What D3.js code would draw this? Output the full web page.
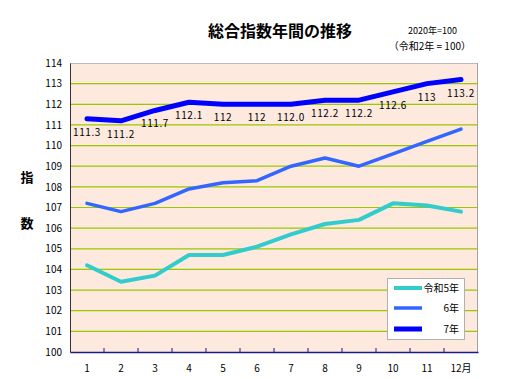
<!DOCTYPE html>
<html><head><meta charset="utf-8">
<script src="https://cdn.jsdelivr.net/npm/d3@7"></script>
<style>body{margin:0;background:#fff}svg{display:block}text{font-family:"Noto Sans CJK JP","Noto Sans",sans-serif}</style>
</head><body><div id="c"></div>
<script>
const months = ["1","2","3","4","5","6","7","8","9","10","11","12月"];
const r5 = [104.2,103.4,103.7,104.7,104.7,105.1,105.7,106.2,106.4,107.2,107.1,106.8];
const r6 = [107.2,106.8,107.2,107.9,108.2,108.3,109.0,109.4,109.0,109.6,110.2,110.8];
const r7 = [111.3,111.2,111.7,112.1,112.0,112.0,112.0,112.2,112.2,112.6,113.0,113.2];
const r7Labels = ["111.3","111.2","111.7","112.1","112","112","112.0","112.2","112.2","112.6","113","113.2"];
const yTicks = d3.range(100,115);
const seriesNames = ["令和5年","6年","7年"];
const seriesColors = ["#33cccc","#3366ff","#0000ff"];
const seriesWidths = [4,3.5,5];
const seriesData = [r5,r6,r7];

const W=511,H=379;
const svg=d3.select("#c").append("svg").attr("width",W).attr("height",H);
const L=70,R=478,T=63,B=352;
const x=d3.scaleBand().domain(months).range([L,R]);
const y=d3.scaleLinear().domain([100,114]).range([B,T]);
const cx=m=>x(m)+x.bandwidth()/2;

svg.append("rect").attr("x",L).attr("y",T).attr("width",R-L).attr("height",B-T).attr("fill","#fde9de");
svg.append("g").selectAll("line").data(yTicks.filter(v=>v>100&&v<114)).join("line")
  .attr("x1",L).attr("x2",R).attr("y1",d=>y(d)).attr("y2",d=>y(d))
  .attr("stroke","#99c800").attr("stroke-width",1.2);
svg.append("line").attr("x1",L).attr("x2",R).attr("y1",T+0.5).attr("y2",T+0.5).attr("stroke","#c0b8b8");
svg.append("line").attr("x1",R-0.5).attr("x2",R-0.5).attr("y1",T).attr("y2",B).attr("stroke","#a0a0a8");
const ya=svg.append("g").attr("transform",`translate(${L},0)`).call(d3.axisLeft(y).tickValues(yTicks).tickSize(0).tickPadding(8).tickFormat(d3.format("d")));
ya.select(".domain").attr("stroke","#333");
ya.selectAll("text").attr("font-size",10).attr("fill","#000");
const xa=svg.append("g").attr("transform",`translate(0,${B})`).call(d3.axisBottom(x).tickSize(0).tickPadding(13));
xa.select(".domain").attr("stroke","#1a1a80").attr("stroke-width",1.6);
xa.selectAll("text").attr("font-size",10).attr("fill","#000");
svg.append("g").selectAll("line").data(months.slice(1)).join("line")
  .attr("x1",d=>x(d)).attr("x2",d=>x(d)).attr("y1",B).attr("y2",B-4).attr("stroke","#1a1a80");

const line=d3.line().x((d,i)=>cx(months[i])).y(d=>y(d));
seriesData.forEach((s,k)=>{
  svg.append("path").datum(s).attr("d",line).attr("fill","none")
    .attr("stroke",seriesColors[k]).attr("stroke-width",seriesWidths[k])
    .attr("stroke-linejoin","round").attr("stroke-linecap","round");
});
svg.append("g").selectAll("text").data(r7).join("text")
  .attr("x",(d,i)=>cx(months[i])).attr("y",d=>y(d)+17)
  .attr("text-anchor","middle").attr("font-size",10).attr("letter-spacing","0.6px")
  .text((d,i)=>r7Labels[i]);

svg.append("text").attr("x",280).attr("y",37).attr("text-anchor","middle")
  .attr("font-size",16).attr("font-weight","bold").text("総合指数年間の推移");
svg.append("text").attr("x",457).attr("y",34).attr("text-anchor","end").attr("font-size",9).text("2020年=100");
svg.append("text").attr("x",471).attr("y",50).attr("text-anchor","end").attr("font-size",10).text("（令和2年 = 100）");
svg.append("text").attr("x",27).attr("y",182).attr("text-anchor","middle").attr("font-size",13).attr("font-weight","bold").text("指");
svg.append("text").attr("x",27).attr("y",228).attr("text-anchor","middle").attr("font-size",13).attr("font-weight","bold").text("数");

const lg=svg.append("g");
lg.append("rect").attr("x",387.5).attr("y",278.5).attr("width",77).attr("height",61).attr("fill","#fff").attr("stroke","#b0b0b0");
const ly=[288,308,329];
seriesNames.forEach((n,k)=>{
  lg.append("line").attr("x1",394).attr("x2",422).attr("y1",ly[k]).attr("y2",ly[k])
    .attr("stroke",seriesColors[k]).attr("stroke-width",seriesWidths[k]);
  lg.append("text").attr("x",459).attr("y",ly[k]+4).attr("text-anchor","end").attr("font-size",10).text(n);
});
</script></body></html>
